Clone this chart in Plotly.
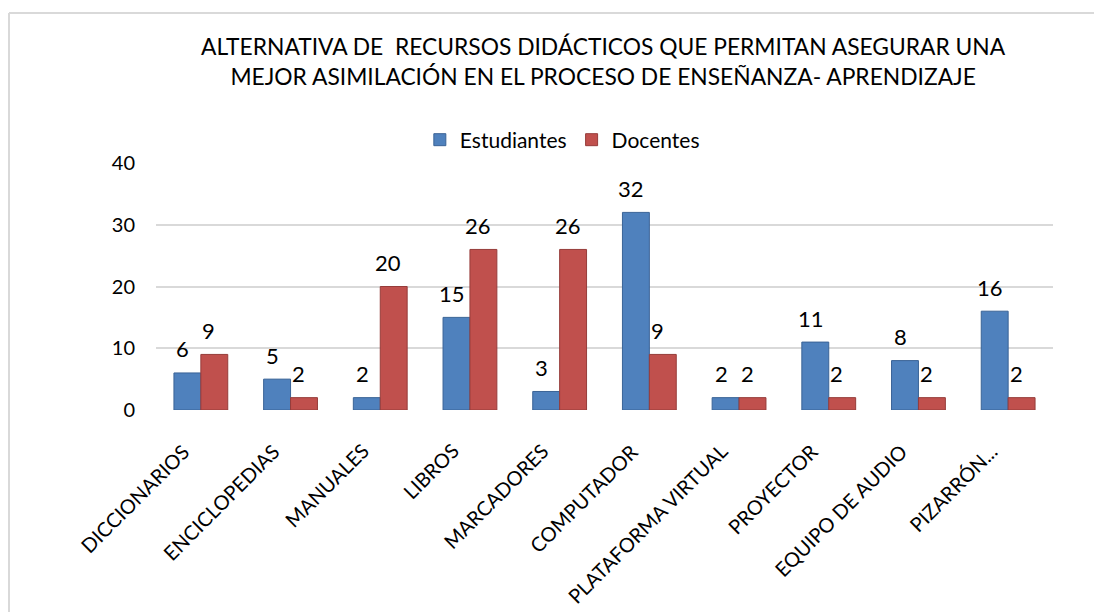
import plotly.graph_objects as go

categorias = ["DICCIONARIOS", "ENCICLOPEDIAS", "MANUALES", "LIBROS", "MARCADORES",
              "COMPUTADOR", "PLATAFORMA VIRTUAL", "PROYECTOR", "EQUIPO DE AUDIO", "PIZARRÓN..."]
estudiantes = [6, 5, 2, 15, 3, 32, 2, 11, 8, 16]
docentes = [9, 2, 20, 26, 26, 9, 2, 2, 2, 2]
y_ticks = [0, 10, 20, 30, 40]

FONT = "Lato"

fig = go.Figure()
fig.add_trace(go.Bar(
    name="Estudiantes", x=categorias, y=estudiantes,
    marker=dict(color="#4F81BD", line=dict(color="#3A6396", width=1)),
))
fig.add_trace(go.Bar(
    name="Docentes", x=categorias, y=docentes,
    marker=dict(color="#C0504D", line=dict(color="#963C3A", width=1)),
))

# data labels (placed above each bar, offset to its half of the group)
for series, dx in ((estudiantes, -18), (docentes, 8)):
    for c, v in zip(categorias, series):
        fig.add_annotation(x=c, y=v, xref="x", yref="y", text=str(v), showarrow=False,
                           xanchor="center", yanchor="middle", xshift=dx, yshift=24,
                           font=dict(size=22, family=FONT, color="#000000"))

# rotated category labels placed as annotations at each category
for c in categorias:
    fig.add_annotation(x=c, y=0, xref="x", yref="paper", text=c, showarrow=False,
                       textangle=-45, xanchor="right", yanchor="top",
                       xshift=-4, yshift=-26,
                       font=dict(size=20, family=FONT, color="#000000"))

fig.update_layout(
    width=1094, height=604,
    paper_bgcolor="white", plot_bgcolor="white",
    font=dict(family=FONT, size=18, color="#000000"),
    title=dict(
        text="ALTERNATIVA DE  RECURSOS DIDÁCTICOS QUE PERMITAN ASEGURAR UNA<br>MEJOR ASIMILACIÓN EN EL PROCESO DE ENSEÑANZA- APRENDIZAJE",
        x=0.544, xanchor="center", y=0.922, yanchor="top",
        font=dict(size=22.8, family=FONT, color="#000000"),
    ),
    legend=dict(orientation="h", x=0.453, xanchor="center", y=1.093, yanchor="middle",
                font=dict(size=21, family=FONT), bgcolor="rgba(0,0,0,0)"),
    margin=dict(l=148, r=49, t=155, b=202),
    barmode="group", bargap=0.4, bargroupgap=0.0,
    showlegend=True,
    shapes=[
        dict(type="line", xref="paper", yref="paper", x0=-0.1639, x1=1.2, y0=1.607, y1=1.607,
             line=dict(color="#D9D9D9", width=2)),
        dict(type="line", xref="paper", yref="paper", x0=-0.1639, x1=-0.1639, y0=1.607, y1=-1.5,
             line=dict(color="#D9D9D9", width=2)),
    ],
)
fig.update_yaxes(range=[0, 40], tickvals=y_ticks, showgrid=True, gridcolor="#D9D9D9",
                 gridwidth=2, zeroline=False, showline=False, ticks="",
                 tickfont=dict(size=20, family=FONT), ticklabelstandoff=20)
fig.update_xaxes(showticklabels=False, showline=False, ticks="",
                 categoryorder="array", categoryarray=categorias,
                 range=[-0.5, len(categorias) - 0.5], autorange=False)

fig.write_html("out.html")
